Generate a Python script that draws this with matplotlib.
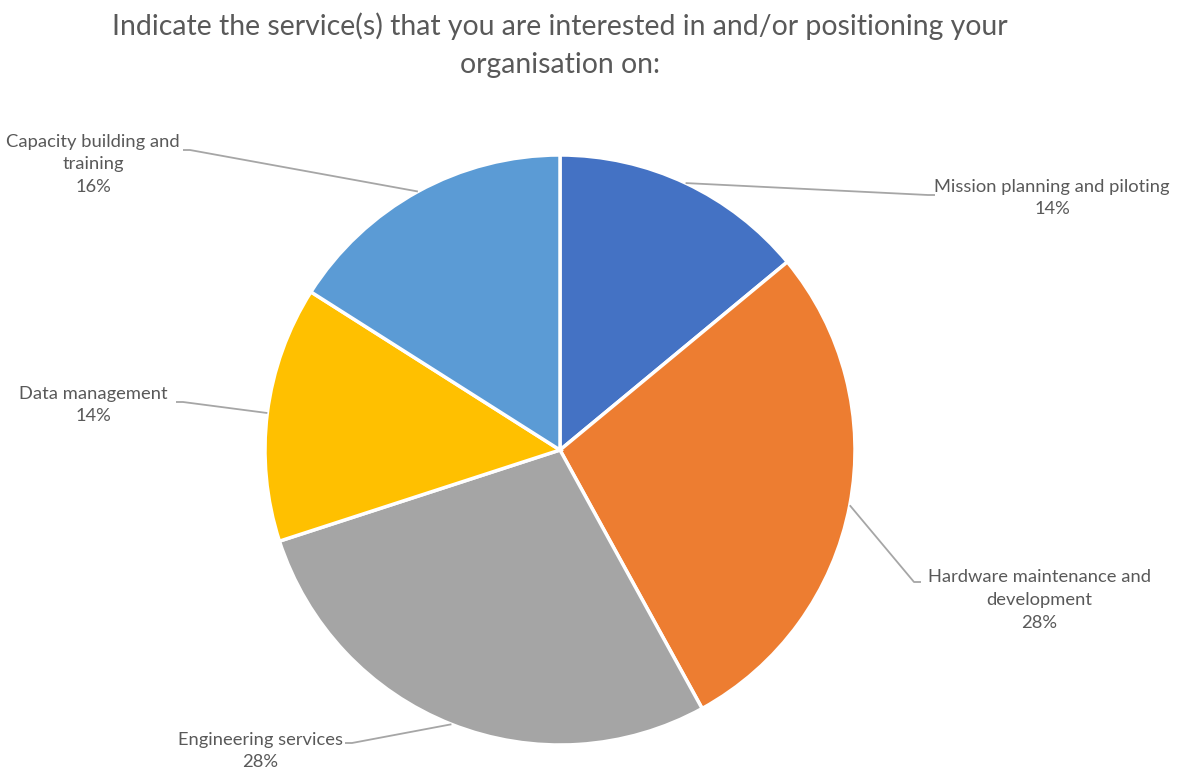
import numpy as np
import matplotlib.pyplot as plt

plt.rcParams['font.family'] = ['Lato', 'DejaVu Sans']

# --- Data ---
services = ["Mission planning and piloting", "Hardware maintenance and\ndevelopment",
            "Engineering services", "Data management", "Capacity building and\ntraining"]
shares = [14, 28, 28, 14, 16]
colors = ["#4472C4", "#ED7D31", "#A5A5A5", "#FFC000", "#5B9BD5"]

# label placement (pixel coords, y from top): elbow of leader line, text centre
elbows = [(928, 195), (914, 582), (352, 743), (183, 402), (190, 150)]
label_pos = [(1052, 198), (1039, 600), (260, 751), (93, 405), (93, 164)]
label_ha_side = ["left", "left", "right", "right", "right"]

W, H = 1179, 771
cx, cy, r = 560, 450, 295

fig = plt.figure(figsize=(W / 100, H / 100), dpi=100)
ax = fig.add_axes([0, 0, 1, 1])

ax.pie(shares, colors=colors, startangle=90, counterclock=False,
       center=(cx, H - cy), radius=r, frame=True,
       wedgeprops=dict(edgecolor="white", linewidth=2.5))
ax.set_xlim(0, W)
ax.set_ylim(0, H)
ax.axis("off")

total = sum(shares)
cum = np.cumsum([0] + shares[:-1])
for i, (name, val) in enumerate(zip(services, shares)):
    mid = (cum[i] + val / 2) / total * 2 * np.pi
    ax_x = cx + r * np.sin(mid)
    ax_y = cy - r * np.cos(mid)
    ex, ey = elbows[i]
    tx, ty = label_pos[i]
    end_x = ex + 7 if label_ha_side[i] == "left" else ex - 7
    ax.plot([ax_x, ex, end_x], [H - ax_y, H - ey, H - ey], color="#A6A6A6",
            linewidth=1.3, solid_capstyle="butt")
    ax.text(tx, H - ty, f"{name}\n{val}%", ha="center", va="center",
            fontsize=13.2, color="#595959", linespacing=1.5)

ax.text(cx, H - 45, "Indicate the service(s) that you are interested in and/or positioning your\norganisation on:",
        ha="center", va="center", fontsize=20.4, color="#595959", linespacing=1.6)

fig.savefig("out.png", dpi=100)
